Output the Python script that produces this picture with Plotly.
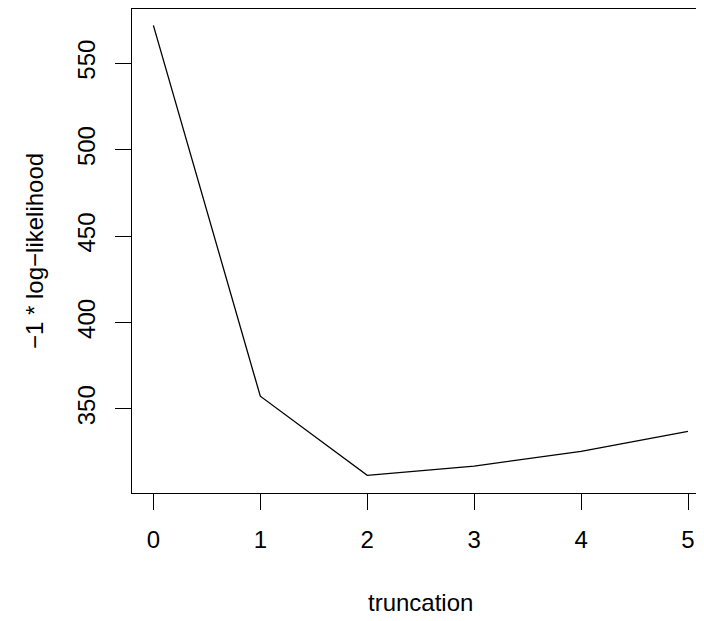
import plotly.graph_objects as go

truncation = [0, 1, 2, 3, 4, 5]
neg_loglik = [571.9, 357.3, 311.5, 316.9, 325.4, 336.9]

x_ticks = [0, 1, 2, 3, 4, 5]
y_ticks = [350, 400, 450, 500, 550]

FONT = "Liberation Sans, Arial, sans-serif"

fig = go.Figure()
fig.add_trace(go.Scatter(x=truncation, y=neg_loglik, mode="lines",
                         line=dict(color="black", width=1.3),
                         showlegend=False, hoverinfo="skip"))

fig.update_layout(
    width=696, height=613,
    margin=dict(l=123.6, r=0, t=0.5, b=128.3, pad=0),
    paper_bgcolor="white", plot_bgcolor="white",
    font=dict(family=FONT, size=24, color="black"),
    xaxis=dict(range=[-0.2, 5.1495], tickvals=x_ticks, ticktext=[str(v) for v in x_ticks],
               showgrid=False, zeroline=False, showline=True, mirror=True,
               linecolor="black", linewidth=1, ticks="outside", ticklen=16,
               tickwidth=1, tickcolor="black", ticklabelstandoff=9),
    yaxis=dict(range=[301.3, 581.4], tickvals=y_ticks, ticktext=[str(v) for v in y_ticks],
               showgrid=False, zeroline=False, showline=True, mirror=False,
               linecolor="black", linewidth=1, ticks="outside", ticklen=16,
               tickwidth=1, tickcolor="black", tickangle=-90, ticklabelstandoff=10),
    annotations=[
        dict(text="truncation", x=2.5, xref="x", y=0, yref="paper", yshift=-109,
             xanchor="center", yanchor="middle", showarrow=False,
             font=dict(family=FONT, size=24, color="black")),
        dict(text="\u22121 * log\u2212likelihood", x=0, xref="paper", xshift=-98,
             y=0.5, yref="paper", xanchor="center", yanchor="middle", textangle=-90,
             showarrow=False, font=dict(family=FONT, size=24, color="black")),
    ],
)

fig.write_html("out.html")
